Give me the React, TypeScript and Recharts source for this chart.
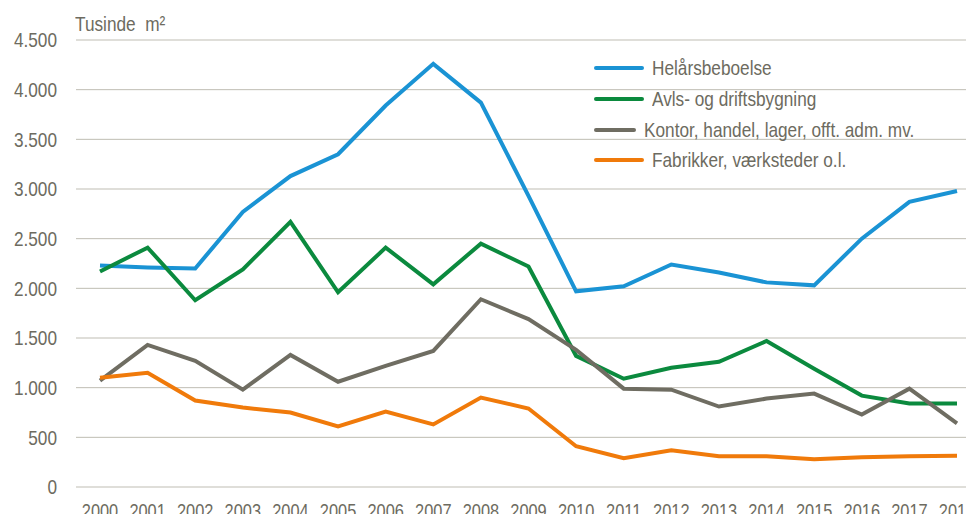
import { LineChart, Line, XAxis, YAxis, CartesianGrid, Legend } from "recharts";

const years = [
  "2000", "2001", "2002", "2003", "2004", "2005", "2006", "2007", "2008", "2009",
  "2010", "2011", "2012", "2013", "2014", "2015", "2016", "2017", "2018",
];

const helaars = [
  2230, 2210, 2200, 2770, 3130, 3350, 3840, 4260, 3870, 2930,
  1970, 2020, 2240, 2160, 2060, 2030, 2500, 2870, 2980,
];
const avls = [
  2170, 2410, 1880, 2190, 2670, 1960, 2410, 2040, 2450, 2220,
  1320, 1090, 1200, 1260, 1470, 1190, 920, 840, 840,
];
const kontor = [
  1070, 1430, 1270, 980, 1330, 1060, 1220, 1370, 1890, 1690,
  1380, 990, 980, 810, 890, 940, 730, 990, 640,
];
const fabrikker = [
  1100, 1150, 870, 800, 750, 610, 760, 630, 900, 790,
  410, 290, 370, 310, 310, 280, 300, 310, 315,
];

const yTicks = [0, 500, 1000, 1500, 2000, 2500, 3000, 3500, 4000, 4500];

const series = [
  { key: "helaars", name: "Helårsbeboelse", color: "#1a93d4" },
  { key: "avls", name: "Avls- og driftsbygning", color: "#0b8a3e" },
  { key: "kontor", name: "Kontor, handel, lager, offt. adm. mv.", color: "#6f6d62" },
  { key: "fabrikker", name: "Fabrikker, værksteder o.l.", color: "#f07a0a" },
];

const data = years.map((year, i) => ({
  year,
  helaars: helaars[i],
  avls: avls[i],
  kontor: kontor[i],
  fabrikker: fabrikker[i],
}));

// no narrow font installed, so squeeze Liberation Sans horizontally
const FONT = "'Liberation Sans', Arial, sans-serif";
const TEXT = "#6d6b60";
const SQUEEZE = 0.82;

const formatThousands = (val: number) =>
  String(val).replace(/\B(?=(\d{3})+(?!\d))/g, ".");

function YTick({ x, y, payload }: any) {
  return (
    <g transform={`translate(${x},${y})`}>
      <text
        transform={`scale(${SQUEEZE},1)`}
        textAnchor="end"
        dy="0.355em"
        fill={TEXT}
        fontSize={21}
        fontFamily={FONT}
      >
        {formatThousands(payload.value)}
      </text>
    </g>
  );
}

function XTick({ x, y, payload }: any) {
  return (
    <g transform={`translate(${x},${y})`}>
      <text
        transform={`scale(${SQUEEZE},1)`}
        textAnchor="middle"
        dy="0.71em"
        fill={TEXT}
        fontSize={20}
        fontFamily={FONT}
      >
        {payload.value}
      </text>
    </g>
  );
}

const squeezed = {
  display: "inline-block",
  transform: `scaleX(${SQUEEZE})`,
  transformOrigin: "left center",
  whiteSpace: "nowrap" as const,
};

function LegendBox() {
  return (
    <div style={{ fontFamily: FONT, fontSize: 21, color: TEXT }}>
      {series.map((s) => (
        <div
          key={s.key}
          style={{ display: "flex", alignItems: "center", height: 30.7 }}
        >
          <span
            style={{
              display: "inline-block",
              width: 50,
              height: 4,
              borderRadius: 2,
              background: s.color,
              marginRight: 8,
            }}
          />
          <span style={squeezed}>{s.name}</span>
        </div>
      ))}
    </div>
  );
}

export default function App() {
  return (
    <div
      style={{
        position: "relative",
        width: 974,
        height: 522,
        margin: -8,
        overflow: "hidden",
        background: "#fff",
      }}
    >
      <div
        style={{
          position: "absolute",
          left: 75,
          top: 13,
          fontFamily: FONT,
          fontSize: 21,
          color: TEXT,
          lineHeight: "21px",
        }}
      >
        <span style={squeezed}>Tusinde&nbsp; m²</span>
      </div>
      <LineChart
        width={974}
        height={522}
        data={data}
        margin={{ top: 40, right: 0, bottom: 0, left: 0 }}
      >
        <CartesianGrid vertical={false} stroke="#bfbdb3" strokeWidth={1} />
        <XAxis
          dataKey="year"
          interval={0}
          tickLine={false}
          axisLine={false}
          tickMargin={11}
          height={35}
          padding={{ left: 24, right: 17 }}
          tick={<XTick />}
        />
        <YAxis
          domain={[0, 4500]}
          ticks={yTicks}
          width={76}
          tickLine={false}
          axisLine={false}
          tickMargin={13}
          tick={<YTick />}
        />
        <Legend
          layout="horizontal"
          verticalAlign="middle"
          align="center"
          content={() => <LegendBox />}
          wrapperStyle={{ top: 53, left: 594, width: 380 }}
        />
        {series.map((s) => (
          <Line
            key={s.key}
            type="linear"
            dataKey={s.key}
            name={s.name}
            stroke={s.color}
            strokeWidth={4}
            dot={false}
            activeDot={false}
            isAnimationActive={false}
          />
        ))}
      </LineChart>
    </div>
  );
}
